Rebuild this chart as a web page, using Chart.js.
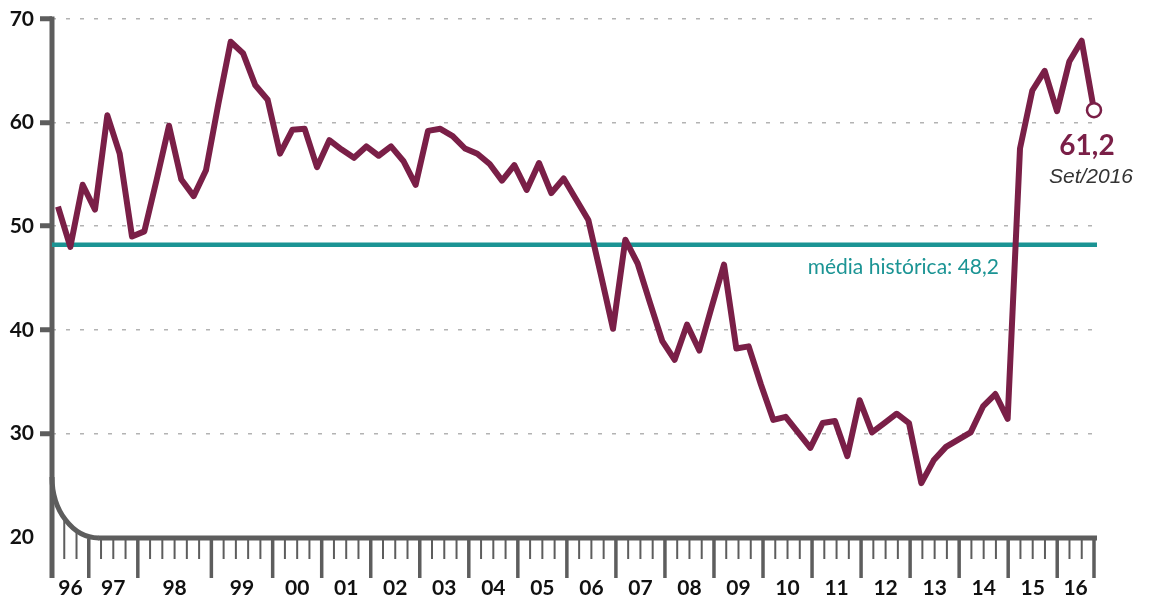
<!DOCTYPE html>
<html lang="pt-BR">
<head>
<meta charset="utf-8">
<title>Índice - média histórica</title>
<script src="https://cdn.jsdelivr.net/npm/chart.js@4.4.1/dist/chart.umd.min.js"></script>
<style>
  html, body { margin: 0; padding: 0; background: #fff; }
  #grafico { width: 1150px; height: 596px; }
</style>
</head>
<body>
<div id="grafico"><canvas id="c" width="1150" height="596"></canvas></div>
<script>
// valores (1996 -> Set/2016)
const indice = [
  51.9, 48.0, 54.0, 51.6, 60.7, 57.0, 49.0, 49.5, 54.5, 59.7,
  54.5, 52.9, 55.4, 61.8, 67.8, 66.7, 63.6, 62.2, 57.0, 59.3,
  59.4, 55.7, 58.3, 57.4, 56.6, 57.7, 56.8, 57.7, 56.3, 54.0,
  59.2, 59.4, 58.7, 57.5, 57.0, 56.0, 54.4, 55.9, 53.5, 56.1,
  53.2, 54.6, 52.6, 50.6, 45.4, 40.1, 48.7, 46.4, 42.6, 38.9,
  37.1, 40.5, 38.0, 42.2, 46.3, 38.2, 38.4, 34.7, 31.3, 31.6,
  30.1, 28.6, 31.0, 31.2, 27.8, 33.2, 30.1, 31.0, 31.9, 31.0,
  25.2, 27.4, 28.7, 29.4, 30.1, 32.6, 33.8, 31.4, 57.5, 63.1,
  65.0, 61.1, 65.9, 67.9, 61.2
];
const anos = ['96','97','98','99','00','01','02','03','04','05','06',
              '07','08','09','10','11','12','13','14','15','16'];
// marcas do eixo x: 86 tracinhos, os longos separam os anos
const totalMarcas = 86;
const marcosAno = [0, 3, 7, 13, 18, 22, 26, 30, 34, 38, 42, 46, 50, 54, 58, 62, 66, 70, 74, 78, 82, 85];
const yTicks = [20, 30, 40, 50, 60, 70];
const mediaHistorica = 48.2;
const ultimoRotulo = 'Set/2016';

const VINHO = '#7a1f47';
const TEAL = '#1b9494';
const CINZA = '#5d5d5d';
const FONTE = 'Lato, "DejaVu Sans Condensed", sans-serif';

// faixas dos eixos
const X_MIN = -0.4865, X_MAX = 84.243;
const XT_MAX = 85.245;
const CURVA_X = 3.8, CURVA_Y = 25.8;

function fmt(v) { return v.toFixed(1).replace('.', ','); }

const pontos = indice.map((v, i) => ({ x: i, y: v }));
const ultimo = indice.length - 1;

const eixosPlugin = {
  id: 'eixos',
  beforeDatasetsDraw(chart) {
    const ctx = chart.ctx;
    const area = chart.chartArea;
    const y = chart.scales.y;
    const xt = chart.scales.xt;
    const base = y.getPixelForValue(20);
    const topo = y.getPixelForValue(70);
    const cx = xt.getPixelForValue(CURVA_X);
    const cy = y.getPixelForValue(CURVA_Y);
    const rx = cx - area.left;
    const ry = base + 1 - cy;

    ctx.save();
    ctx.strokeStyle = CINZA;
    ctx.lineCap = 'butt';
    ctx.lineWidth = 5;
    // eixo vertical
    ctx.beginPath();
    ctx.moveTo(area.left, topo - 2.5);
    ctx.lineTo(area.left, base + 41);
    ctx.stroke();
    // canto arredondado
    ctx.beginPath();
    ctx.ellipse(cx, cy, rx, ry, 0, Math.PI / 2, Math.PI);
    ctx.stroke();
    // eixo horizontal
    ctx.beginPath();
    ctx.moveTo(cx - 0.5, base + 1);
    ctx.lineTo(area.right, base + 1);
    ctx.stroke();

    // tracinhos
    for (let k = 1; k < totalMarcas; k++) {
      const px = xt.getPixelForValue(k);
      const longo = marcosAno.includes(k);
      let y0 = base + 3;
      if (px < cx) {
        const t = (cx - px) / rx;
        y0 = cy + ry * Math.sqrt(Math.max(0, 1 - t * t)) + 2;
      }
      ctx.lineWidth = longo ? 3.5 : 2;
      ctx.beginPath();
      ctx.moveTo(px, y0);
      ctx.lineTo(px, base + (longo ? 41 : 22));
      ctx.stroke();
    }
    ctx.restore();
  },
  afterDatasetsDraw(chart) {
    const ctx = chart.ctx;
    const area = chart.chartArea;
    const y = chart.scales.y;
    const p = chart.getDatasetMeta(0).data[ultimo];

    ctx.save();
    ctx.textAlign = 'center';
    ctx.textBaseline = 'alphabetic';
    ctx.fillStyle = VINHO;
    ctx.font = 'bold 28px ' + FONTE;
    ctx.fillText(fmt(indice[ultimo]), p.x - 7, p.y + 45);
    ctx.fillStyle = '#333333';
    ctx.font = 'italic 21px "Liberation Sans", sans-serif';
    ctx.fillText(ultimoRotulo, p.x - 3, p.y + 73);

    const ym = y.getPixelForValue(mediaHistorica);
    ctx.textAlign = 'right';
    ctx.fillStyle = TEAL;
    ctx.font = '21px ' + FONTE;
    ctx.fillText('média histórica: ' + fmt(mediaHistorica), area.right - 98, ym + 29);
    ctx.restore();
  }
};

const ctx = document.getElementById('c').getContext('2d');
const grafico = new Chart(ctx, {
  type: 'line',
  data: {
    datasets: [{
      label: 'Índice',
      data: pontos,
      xAxisID: 'x',
      borderColor: VINHO,
      borderWidth: 6,
      borderJoinStyle: 'round',
      tension: 0,
      clip: false,
      pointRadius: (c) => c.dataIndex === ultimo ? 7 : 0,
      pointHoverRadius: (c) => c.dataIndex === ultimo ? 7 : 0,
      pointBackgroundColor: '#ffffff',
      pointBorderColor: VINHO,
      pointBorderWidth: 2.5
    }, {
      label: 'média histórica',
      data: [{ x: X_MIN, y: mediaHistorica }, { x: X_MAX, y: mediaHistorica }],
      xAxisID: 'x',
      borderColor: TEAL,
      borderWidth: 4.5,
      pointRadius: 0,
      tension: 0
    }]
  },
  options: {
    responsive: false,
    animation: false,
    events: [],
    layout: { padding: { top: 19, right: 53, bottom: 0, left: 0 } },
    plugins: {
      legend: { display: false },
      tooltip: { enabled: false }
    },
    scales: {
      x: {
        type: 'linear',
        display: false,
        min: X_MIN,
        max: X_MAX
      },
      xt: {
        type: 'linear',
        position: 'bottom',
        min: 0,
        max: XT_MAX,
        grid: { display: false },
        border: { display: false },
        afterBuildTicks: (scale) => {
          scale.ticks = anos.map((a, i) => ({ value: (marcosAno[i] + marcosAno[i + 1]) / 2 }));
        },
        afterFit: (scale) => { scale.height = 59; },
        ticks: {
          autoSkip: false,
          maxRotation: 0,
          padding: 31,
          color: '#111111',
          font: { family: FONTE, size: 21, weight: 'bold' },
          callback: (v, i) => anos[i]
        }
      },
      y: {
        type: 'linear',
        min: 20,
        max: 70,
        afterBuildTicks: (scale) => {
          scale.ticks = yTicks.map(v => ({ value: v }));
        },
        afterFit: (scale) => { scale.width = 52; },
        border: { display: false, dash: [4, 10] },
        grid: {
          color: (c) => c.tick && c.tick.value === 20 ? 'rgba(0,0,0,0)' : '#b3b3b3',
          lineWidth: 1.5,
          drawTicks: true,
          tickLength: 12,
          tickWidth: 5,
          tickColor: (c) => c.tick && c.tick.value === 20 ? 'rgba(0,0,0,0)' : CINZA
        },
        ticks: {
          padding: 6,
          color: '#111111',
          font: { family: FONTE, size: 21, weight: 'bold' }
        }
      }
    }
  },
  plugins: [eixosPlugin]
});
</script>
</body>
</html>
